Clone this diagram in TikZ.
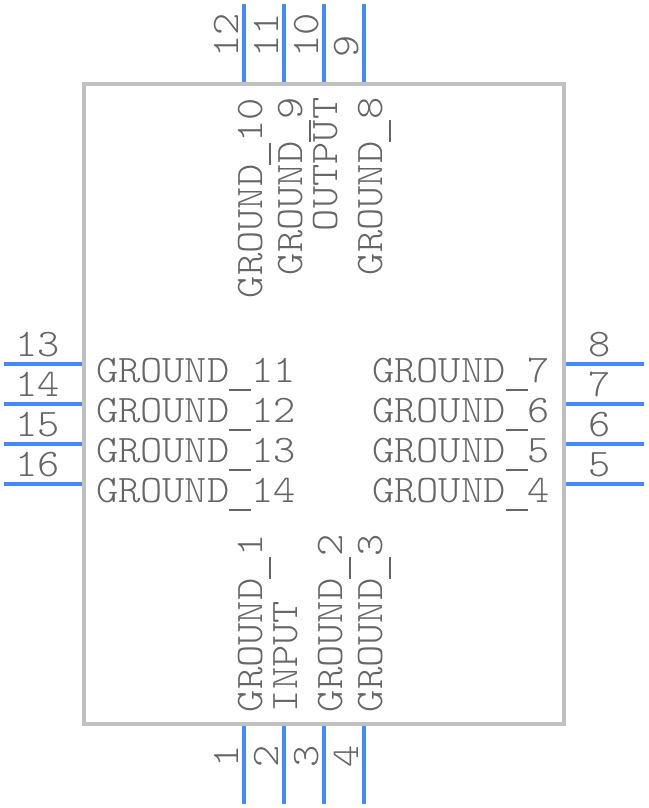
\documentclass[tikz,border=0pt]{standalone}
\usepackage{fontspec}
\setmonofont[FakeStretch=1.085]{Latin Modern Mono Light}
\newcommand{\usc}{\hbox to 22.2pt{\rlap{\smash{\rule[-9.2pt]{22.2pt}{2.4pt}}}\hss\smash{\raisebox{-2.5pt}{\_}}\hss}}
\tikzset{x=1pt,y=-1pt,
  body/.style={draw=bodygray,line width=4pt,fill=white,line join=miter},
  pin/.style={draw=pinblue,line width=4pt},
  lbl/.style={text=txtgray,inner sep=0pt,outer sep=0pt,font=\fontsize{39pt}{40pt}\selectfont\ttfamily},
  hs/.style={lbl,anchor=base west},
  he/.style={lbl,anchor=base east},
  vs/.style={lbl,anchor=base west,rotate=90}}
\definecolor{bodygray}{HTML}{C0C0C0}
\definecolor{pinblue}{HTML}{4488FF}
\definecolor{txtgray}{HTML}{666666}
\begin{document}
\begin{tikzpicture}
\useasboundingbox (0,0) rectangle (648,808);
\coordinate (bTL) at (84,84); \coordinate (bBR) at (564,724);
\draw[body] (bTL) rectangle (bBR);
% top pins
\foreach \n/\x in {12/244,11/284,10/324,9/364}{
  \coordinate (pt\n) at (\x,4); \coordinate (qt\n) at (\x,82);
  \draw[pin] (pt\n) -- (qt\n);}
% bottom pins
\foreach \n/\x in {1/244,2/284,3/324,4/364}{
  \coordinate (pb\n) at (\x,804); \coordinate (qb\n) at (\x,726);
  \draw[pin] (pb\n) -- (qb\n);}
% left pins
\foreach \n/\y in {13/364,14/404,15/444,16/484}{
  \coordinate (pl\n) at (4,\y); \coordinate (ql\n) at (82,\y);
  \draw[pin] (pl\n) -- (ql\n);}
% right pins
\foreach \n/\y in {8/364,7/404,6/444,5/484}{
  \coordinate (pr\n) at (644,\y); \coordinate (qr\n) at (566,\y);
  \draw[pin] (pr\n) -- (qr\n);}
% pin numbers
\node[vs] (n12) at (238,58) {12};
\node[vs] (n11) at (278,58) {11};
\node[vs] (n10) at (318,58) {10};
\node[vs] (n9) at (358,58) {9};
\node[vs] (n1) at (238,767) {1};
\node[vs] (n2) at (278,767) {2};
\node[vs] (n3) at (318,767) {3};
\node[vs] (n4) at (358,767) {4};
\node[he] (n13) at (60,356) {13};
\node[he] (n14) at (60,396) {14};
\node[he] (n15) at (60,436) {15};
\node[he] (n16) at (60,476) {16};
\node[hs] (n8) at (588,356) {8};
\node[hs] (n7) at (588,396) {7};
\node[hs] (n6) at (588,436) {6};
\node[hs] (n5) at (588,476) {5};
% pin names
\node[vs] (t10) at (262,298) {GROUND\usc 10};
\node[vs] (t9) at (302,275) {GROUND\usc 9};
\node[vs] (tout) at (337,231) {OUTPUT};
\node[vs] (t8) at (382,275) {GROUND\usc 8};
\node[vs] (b1) at (262,712) {GROUND\usc 1};
\node[vs] (bin) at (297,712) {INPUT};
\node[vs] (b2) at (342,712) {GROUND\usc 2};
\node[vs] (b3) at (382,712) {GROUND\usc 3};
\node[hs] (l11) at (96,382) {GROUND\usc 11};
\node[hs] (l12) at (96,422) {GROUND\usc 12};
\node[hs] (l13) at (96,462) {GROUND\usc 13};
\node[hs] (l14) at (96,502) {GROUND\usc 14};
\node[he] (r7) at (550,382) {GROUND\usc 7};
\node[he] (r6) at (550,422) {GROUND\usc 6};
\node[he] (r5) at (550,462) {GROUND\usc 5};
\node[he] (r4) at (550,502) {GROUND\usc 4};
\end{tikzpicture}
\end{document}
